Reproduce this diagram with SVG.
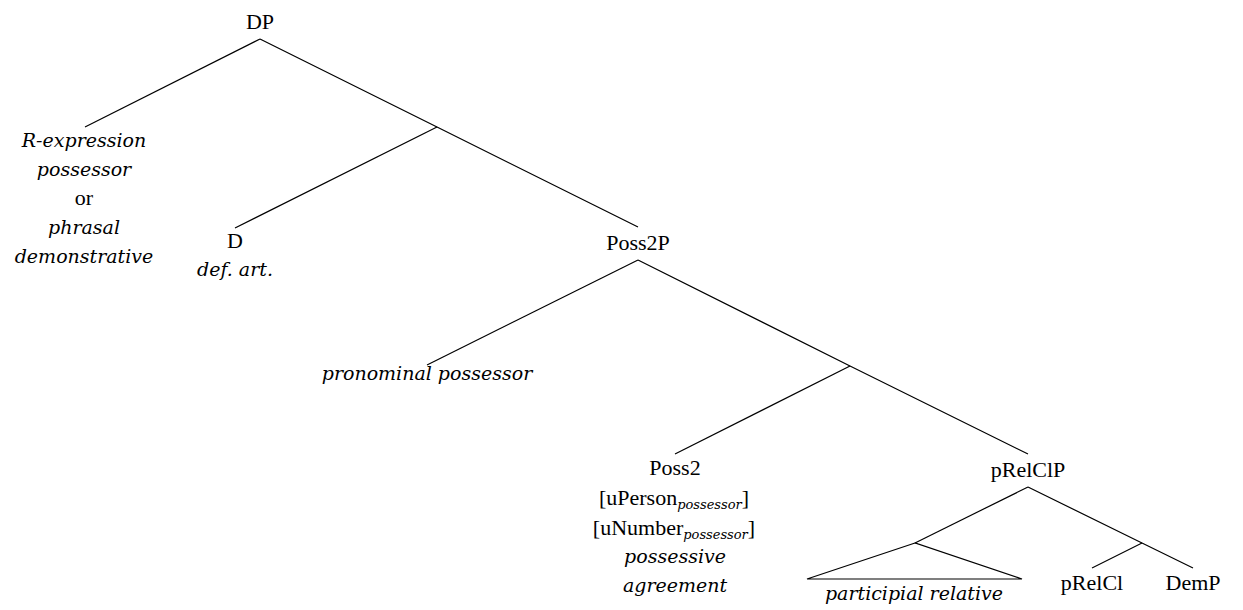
<svg xmlns="http://www.w3.org/2000/svg" width="1243" height="610" viewBox="0 0 1243 610">
<style>
text{font-family:"Liberation Serif","Times New Roman",serif;font-size:22px;fill:#000;text-anchor:middle}
.i{font-family:"DejaVu Serif",serif;font-style:italic;font-size:19px}
.sub{font-family:"DejaVu Serif",serif;font-size:13px;font-style:italic}
.e{fill:none;stroke:#000;stroke-width:1.2}
</style>
<rect width="1243" height="610" fill="#fff"/>
<g id="connectors">
<path class="e" d="M260,39 L85,127"/>
<path class="e" d="M260,39 L437,127 L638,227"/>
<path class="e" d="M437,127 L235,228"/>
<path class="e" d="M638,260 L427,365"/>
<path class="e" d="M638,260 L850,366 L1028,454"/>
<path class="e" d="M850,366 L675,454"/>
<path class="e" d="M1028,487 L915,543"/>
<path class="e" d="M1028,487 L1142,543 L1193,568"/>
<path class="e" d="M1142,543 L1092,568"/>
<path class="e" d="M915,543 L807,579 L1022,579 Z"/>
</g>
<g id="DP"><text x="260" y="29">DP</text></g>
<g id="Rexpr">
<text x="84" y="147" class="i">R-expression</text>
<text x="84" y="176" class="i">possessor</text>
<text x="84" y="205">or</text>
<text x="84" y="234" class="i">phrasal</text>
<text x="84" y="263" class="i">demonstrative</text>
</g>
<g id="D">
<text x="235" y="248">D</text>
<text x="235" y="276" class="i">def. art.</text>
</g>
<g id="Poss2P"><text x="638" y="250">Poss2P</text></g>
<g id="pronominal"><text x="427" y="380" class="i">pronominal possessor</text></g>
<g id="Poss2">
<text x="675" y="475">Poss2</text>
<text x="674" y="505">[uPerson<tspan class="sub" dy="4">possessor</tspan><tspan dy="-4">]</tspan></text>
<text x="674" y="535">[uNumber<tspan class="sub" dy="4">possessor</tspan><tspan dy="-4">]</tspan></text>
<text x="675" y="563" class="i">possessive</text>
<text x="675" y="592" class="i">agreement</text>
</g>
<g id="pRelClP"><text x="1028" y="477">pRelClP</text></g>
<g id="participial"><text x="914" y="600" class="i">participial relative</text></g>
<g id="pRelCl"><text x="1092" y="590">pRelCl</text></g>
<g id="DemP"><text x="1193" y="590">DemP</text></g>
</svg>
